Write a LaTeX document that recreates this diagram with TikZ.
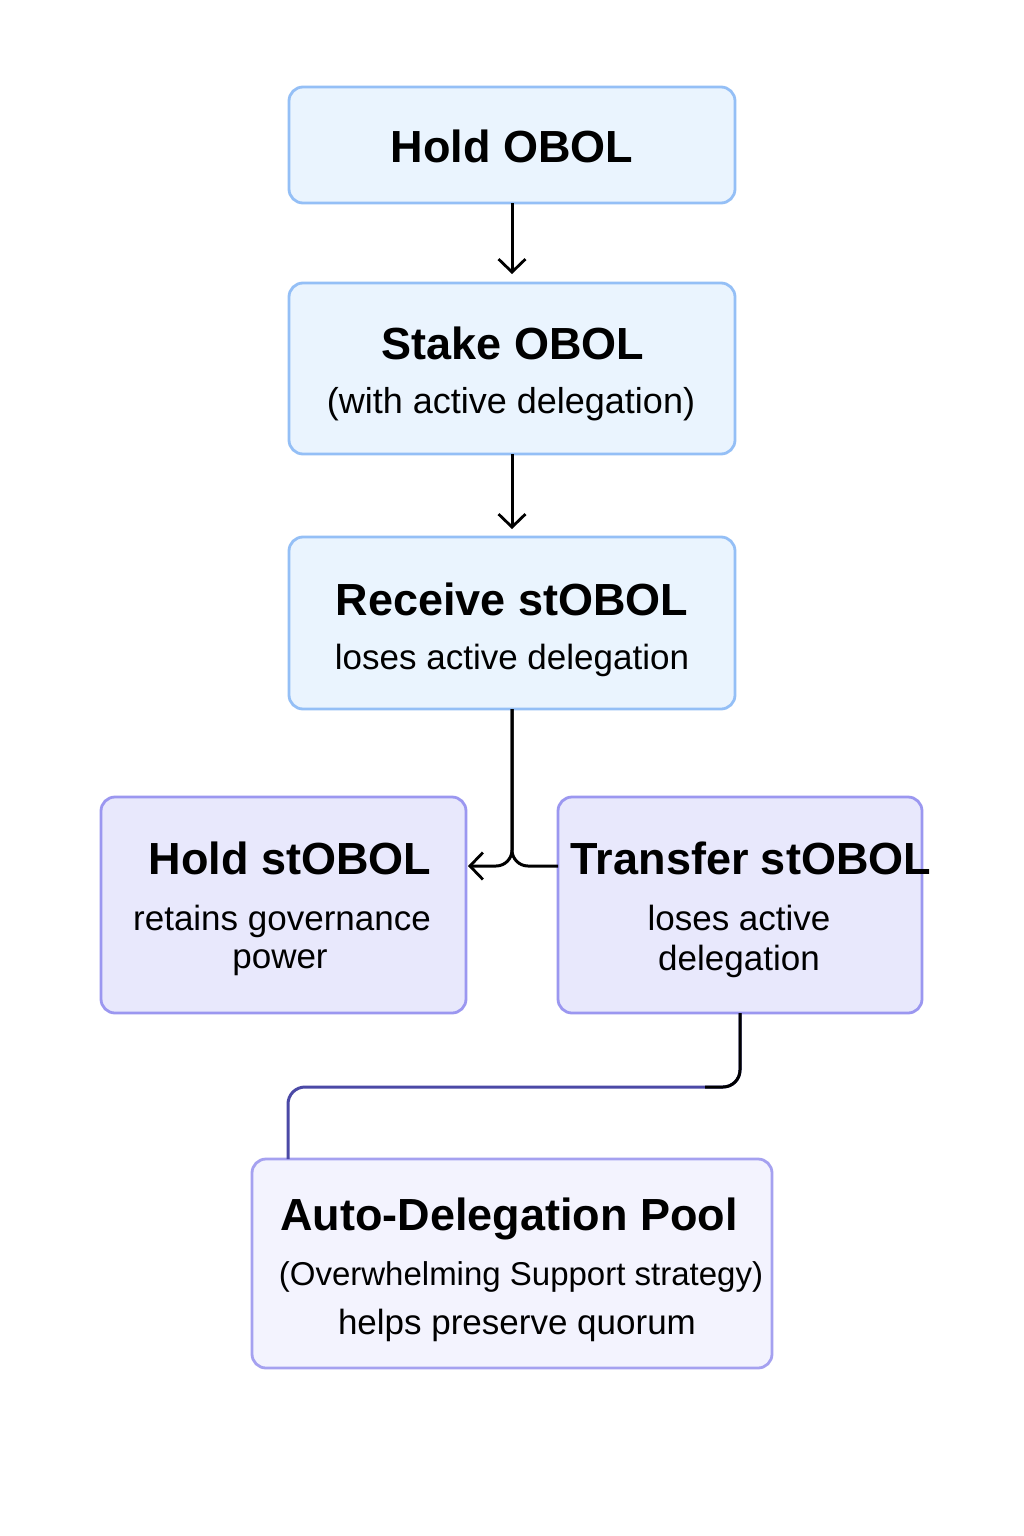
\documentclass[tikz,border=0pt]{standalone}
\usepackage{fontspec}
\setmainfont{Liberation Sans}
\usetikzlibrary{arrows.meta}
\definecolor{bfill}{HTML}{EAF4FE}
\definecolor{bline}{HTML}{94BFF6}
\definecolor{lfill}{HTML}{E8E8FC}
\definecolor{lline}{HTML}{9B97F0}
\definecolor{afill}{HTML}{F3F3FE}
\definecolor{aline}{HTML}{A5A1F0}
\definecolor{indigo}{HTML}{4B49A6}
\tikzset{
  box/.style={draw, rounded corners=14pt, line width=2.8pt, inner sep=0pt, outer sep=0pt},
  bluebox/.style={box, fill=bfill, draw=bline},
  lavbox/.style={box, fill=lfill, draw=lline},
  autobox/.style={box, fill=afill, draw=aline},
  ttl/.style={anchor=base, inner sep=0pt, font=\bfseries\fontsize{45}{54}\selectfont},
  sub/.style={anchor=base, inner sep=0pt, font=\fontsize{35}{42}\selectfont},
  conn/.style={line width=3pt, draw=black},
  tip/.style={-{Straight Barb[length=13pt,width=27pt,line width=2.8pt]}}
}
\begin{document}
\begin{tikzpicture}[x=1pt,y=-1pt]
\useasboundingbox[fill=white] (0,0) rectangle (1024,1536);

% boxes
\node[bluebox, minimum width=446pt, minimum height=116pt] (b1) at (512,145) {};
\node[bluebox, minimum width=446pt, minimum height=171pt] (b2) at (512,368.5) {};
\node[bluebox, minimum width=446pt, minimum height=172pt] (b3) at (512,623) {};
\node[lavbox, minimum width=365pt, minimum height=216pt] (b4) at (283.5,905) {};
\node[lavbox, minimum width=364pt, minimum height=216pt] (b5) at (740,905) {};
\node[autobox, minimum width=520pt, minimum height=209pt] (b6) at (512,1263.5) {};

% texts
\node[ttl] (t1) at (512,162) {Hold OBOL};
\node[ttl] (t2) at (513,359) {Stake OBOL};
\node[sub, font=\fontsize{36}{43}\selectfont] (s2) at (511,413) {(with active delegation)};
\node[ttl] (t3) at (512,615) {Receive stOBOL};
\node[sub] (s3) at (512,669) {loses active delegation};
\node[ttl] (t4) at (290,874) {Hold stOBOL};
\node[sub] (s4a) at (282,930) {retains governance};
\node[sub] (s4b) at (280,968) {power};
\node[ttl] (t5) at (751,874) {Transfer stOBOL};
\node[sub] (s5a) at (739,930) {loses active};
\node[sub] (s5b) at (739,970) {delegation};
\node[ttl] (t6) at (509,1230) {Auto-Delegation Pool};
\node[sub, font=\fontsize{33}{40}\selectfont] (s6a) at (521,1285) {(Overwhelming Support strategy)};
\node[sub] (s6b) at (517,1334) {helps preserve quorum};

% connectors
\draw[conn, tip, shorten >=9pt] (b1.south) -- (b2.north);
\draw[conn, tip, shorten >=8pt] (b2.south) -- (b3.north);

\coordinate (m) at (512,866);
\draw[conn, rounded corners=16pt, tip, shorten >=2pt] (b3.south) |- (b4.east |- m);
\draw[conn, rounded corners=16pt] (b5.west |- m) -| (b3.south);

\coordinate (k) at (288,1087);
\coordinate (kb) at (705,1087);
\draw[line width=3pt, draw=indigo, rounded corners=17pt] (b5.south) |- (k) -- (b6.north -| k);
\draw[conn, rounded corners=17pt] (b5.south) |- (kb);
\end{tikzpicture}
\end{document}
